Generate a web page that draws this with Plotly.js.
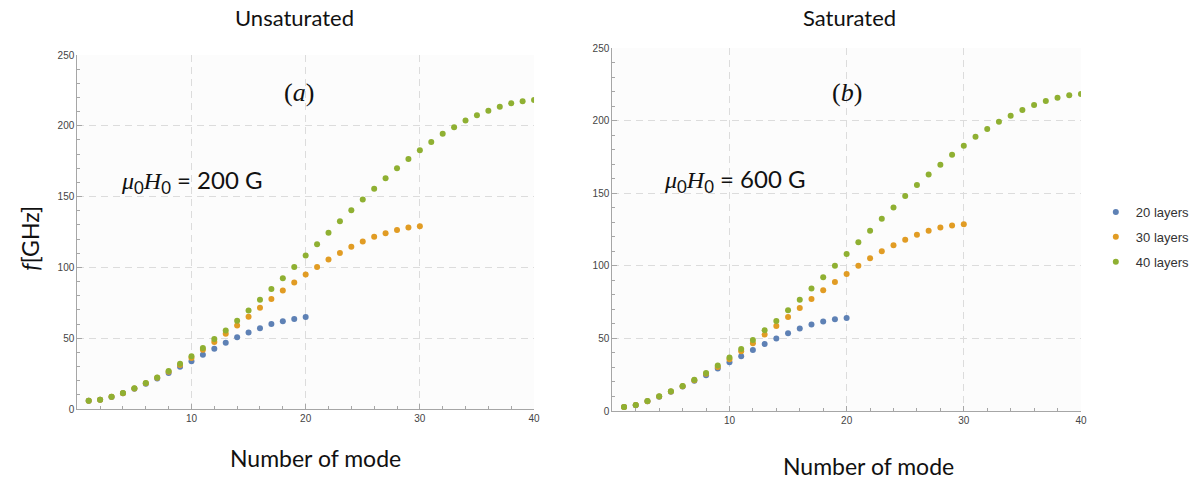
<!DOCTYPE html>
<html>
<head>
<meta charset="utf-8">
<script src="https://cdn.plot.ly/plotly-3.0.1.min.js"></script>
<style>html,body{margin:0;padding:0;background:#fff;}#chart{width:1195px;height:479px;}</style>
</head>
<body>
<div id="chart"></div>
<script>
// Mode numbers
const modes20 = Array.from({length: 20}, (_, i) => i + 1);
const modes30 = Array.from({length: 30}, (_, i) => i + 1);
const modes40 = Array.from({length: 40}, (_, i) => i + 1);

// (a) Unsaturated, mu0H0 = 200 G  — f [GHz]
const blue20a = [5.8, 6.5, 8.5, 11.1, 14.3, 17.8, 21.5, 25.4, 29.9, 33.8, 38.3, 42.6, 46.8, 50.6, 54.0, 57.0, 60.0, 62.0, 63.5, 64.9];
const orange30a = [5.9, 6.6, 8.6, 11.2, 14.5, 18.1, 22.0, 26.3, 31.0, 36.0, 41.9, 47.3, 53.2, 59.0, 65.1, 71.5, 77.6, 83.7, 89.4, 95.0,
                   100.2, 105.6, 110.1, 114.5, 118.3, 121.6, 124.2, 126.5, 128.2, 129.1];
const green40a = [5.9, 6.6, 8.7, 11.3, 14.6, 18.3, 22.3, 26.8, 32.0, 37.2, 43.0, 49.4, 55.5, 62.3, 69.6, 77.1, 84.7, 92.4, 100.2, 108.4,
                  116.4, 124.4, 132.6, 140.4, 147.9, 155.5, 163.0, 170.0, 176.6, 182.7, 188.6, 194.3, 199.0, 203.7, 207.4, 210.7, 213.5, 215.9, 217.3, 218.3];

// (b) Saturated, mu0H0 = 600 G — f [GHz]
const blue20b = [2.7, 4.0, 6.7, 9.9, 13.3, 16.8, 20.8, 24.6, 29.2, 33.5, 37.7, 42.0, 46.2, 49.9, 53.5, 56.8, 59.5, 61.6, 63.2, 64.1];
const orange30b = [2.8, 4.1, 6.8, 10.0, 13.4, 17.0, 21.2, 25.6, 30.3, 35.6, 41.1, 46.6, 52.6, 58.6, 64.8, 71.0, 77.2, 83.2, 88.9, 94.4,
                   100.0, 105.2, 110.1, 114.2, 117.9, 121.3, 124.1, 126.4, 127.8, 128.7];
const green40b = [2.8, 4.1, 6.9, 10.1, 13.6, 17.2, 21.6, 26.2, 31.3, 36.8, 42.7, 48.9, 55.6, 62.0, 69.4, 76.7, 84.3, 92.1, 100.0, 108.2,
                  116.3, 124.1, 132.4, 140.2, 148.0, 155.6, 162.9, 169.6, 176.5, 182.7, 188.9, 194.2, 199.2, 203.4, 207.3, 210.7, 213.5, 215.8, 217.4, 218.3];

const seriesNames = ['20 layers', '30 layers', '40 layers'];
const panelTitles = ['Unsaturated', 'Saturated'];
const panelLabels = ['(<i>a</i>)', '(<i>b</i>)'];
const fieldValues = ['200 G', '600 G'];
const xTickVals = [10, 20, 30, 40];
const yTickVals = [0, 50, 100, 150, 200, 250];

const colors = ['#5E81B5', '#E19C24', '#8FB032'];
const msize = 6;

function tr(x, y, idx, xa, ya, legend) {
  return {
    x: x, y: y, type: 'scatter', mode: 'markers',
    name: seriesNames[idx], legendgroup: 'g' + idx, showlegend: legend,
    marker: {color: colors[idx], size: msize},
    xaxis: xa, yaxis: ya, hoverinfo: 'x+y'
  };
}

const data = [
  tr(modes20, blue20a, 0, 'x', 'y', false),
  tr(modes30, orange30a, 1, 'x', 'y', false),
  tr(modes40, green40a, 2, 'x', 'y', false),
  tr(modes20, blue20b, 0, 'x2', 'y2', true),
  tr(modes30, orange30b, 1, 'x2', 'y2', true),
  tr(modes40, green40b, 2, 'x2', 'y2', true)
];

const W = 1195, H = 479;
const px = v => v / W;
const py = v => 1 - v / H;

const axisCommon = {
  showline: true, linecolor: '#a6a6a6', linewidth: 1,
  ticks: 'inside', ticklen: 5, tickcolor: '#a6a6a6', tickwidth: 1,
  showgrid: true, gridcolor: '#dcdcdc', gridwidth: 1, griddash: '7px,5px',
  zeroline: false,
  tickfont: {family: 'Liberation Sans, Arial, sans-serif', size: 10, color: '#444'},
  fixedrange: true
};

function xax(domain, anchor) {
  return Object.assign({}, axisCommon, {
    domain: domain, anchor: anchor, range: [0, 40], tickmode: 'array', tickvals: xTickVals,
    minor: {tickmode: 'linear', dtick: 2, tick0: 0, ticklen: 3, tickcolor: '#a6a6a6', ticks: 'inside', showgrid: false}
  });
}
function yax(domain, anchor) {
  return Object.assign({}, axisCommon, {
    domain: domain, anchor: anchor, range: [0, 250], tickmode: 'array', tickvals: yTickVals,
    minor: {tickmode: 'linear', dtick: 10, tick0: 0, ticklen: 3, tickcolor: '#a6a6a6', ticks: 'inside', showgrid: false}
  });
}

const textFont = 'Lato, "Open Sans", sans-serif';
const mathSpan = s => '<span style="font-family:\'Liberation Serif\',serif"><i>' + s + '</i></span>';
const fieldText = v => mathSpan('μ') + '<sub>0</sub>' + mathSpan('H') + '<sub>0</sub> = ' + v;

function ann(text, x, y, font, extra) {
  return Object.assign({text: text, x: px(x), y: py(y), xref: 'paper', yref: 'paper', showarrow: false,
    xanchor: 'center', yanchor: 'middle', font: font}, extra || {});
}

const annotations = [
  ann(panelTitles[0], 297, 17, {family: textFont, size: 22, color: '#111'}),
  ann(panelTitles[1], 857, 17, {family: textFont, size: 22, color: '#111'}),
  ann('Number of mode', 318, 458, {family: textFont, size: 23, color: '#111'}),
  ann('Number of mode', 877, 466, {family: textFont, size: 23, color: '#111'}),
  ann('<i>f</i>[GHz]', 30, 238, {family: textFont, size: 23, color: '#111'}, {textangle: -90}),
  ann(panelLabels[0], 302, 92, {family: 'Liberation Serif, serif', size: 26, color: '#111'}),
  ann(panelLabels[1], 855, 92, {family: 'Liberation Serif, serif', size: 26, color: '#111'}),
  ann(fieldText(fieldValues[0]), 194, 181, {family: textFont, size: 24, color: '#111'}),
  ann(fieldText(fieldValues[1]), 742, 180, {family: textFont, size: 24, color: '#111'})
];

const layout = {
  width: W, height: H,
  margin: {l: 0, r: 0, t: 0, b: 0},
  paper_bgcolor: '#ffffff',
  plot_bgcolor: '#fcfcfc',
  showlegend: true,
  legend: {
    x: px(1106), y: py(197), xanchor: 'left', yanchor: 'top',
    font: {family: 'Liberation Sans, Arial, sans-serif', size: 13, color: '#333'},
    tracegroupgap: 5, itemwidth: 30, bgcolor: 'rgba(0,0,0,0)'
  },
  xaxis: xax([px(78), px(539)], 'y'),
  yaxis: yax([py(409), py(55)], 'x'),
  xaxis2: xax([px(618), px(1091)], 'y2'),
  yaxis2: yax([py(411), py(48)], 'x2'),
  annotations: annotations
};

Plotly.newPlot('chart', data, layout, {displayModeBar: false, staticPlot: true});
</script>
</body>
</html>
